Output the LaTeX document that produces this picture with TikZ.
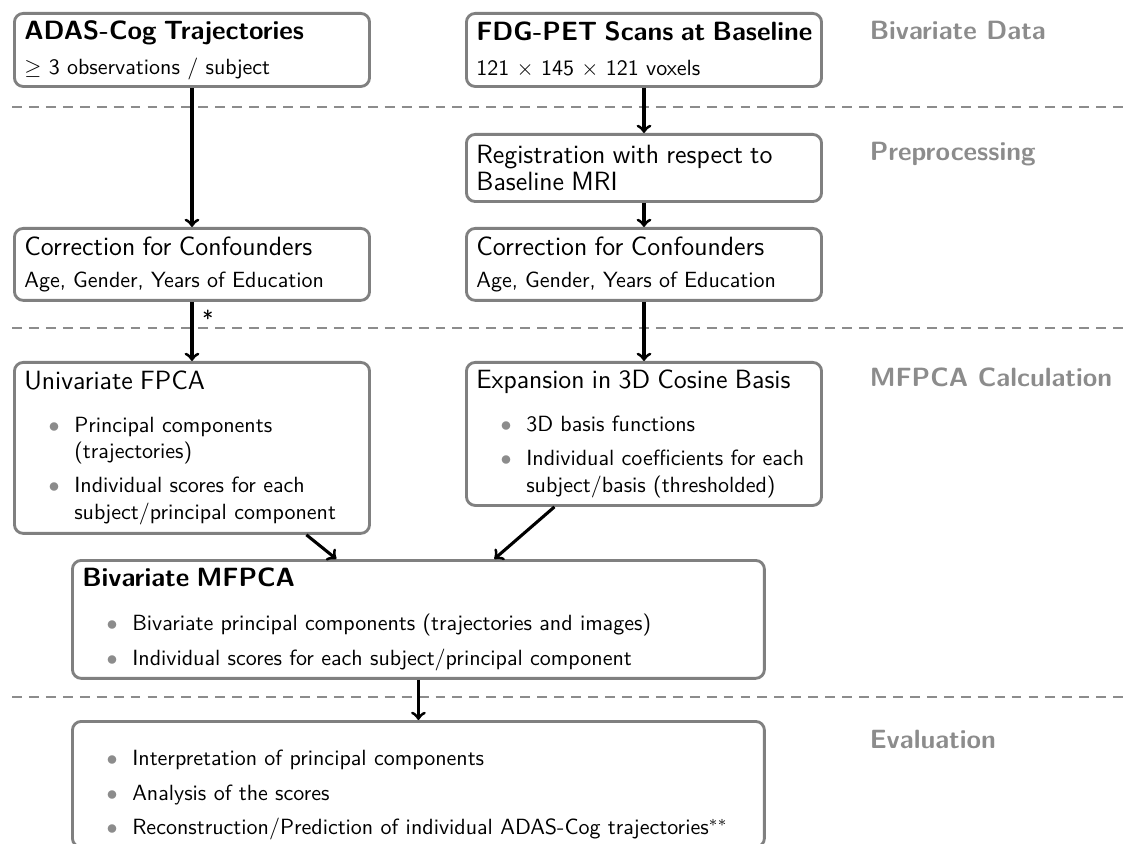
\documentclass[tikz,border=0pt]{standalone}
\renewcommand{\familydefault}{\sfdefault}
\definecolor{boxgray}{gray}{0.5}
\definecolor{phasegray}{gray}{0.55}
\definecolor{dashgray}{gray}{0.55}
\definecolor{dotgray}{gray}{0.55}
\tikzset{%
  stepbox/.style = {draw=boxgray, line width=1.3pt, rounded corners=4pt,%
                    anchor=north west, align=left, inner xsep=4.5pt,%
                    inner ysep=3pt, text width=152.4pt},%
  widebox/.style = {stepbox, text width=305.5pt},%
  phase/.style   = {anchor=base west, font=\large\bfseries, text=phasegray},%
  divider/.style = {draw=dashgray, line width=1.3pt, dash pattern=on 4.5pt off 3.2pt},%
  flow/.style    = {->, line width=1.4pt}%
}
\newcommand{\bitem}[1][3.5pt]{\par\vspace{#1}\hangindent=22.7pt\hangafter=1%
  \noindent\hbox to 22.7pt{\hskip 11pt\textcolor{dotgray}{$\bullet$}\hfil}\ignorespaces}

\begin{document}
\begin{tikzpicture}[x=0.4545pt,y=-0.4545pt]
	\useasboundingbox (0,0) rectangle (1129,844);
	\draw[divider] (12,107) -- (1129,107);
	\draw[divider] (12,328) -- (1129,328);
	\draw[divider] (12,697) -- (1129,697);
	\node[phase] (lblData) at (862,40) {Bivariate Data};
	\node[phase] (lblPre) at (862,161) {Preprocessing};
	\node[phase] (lblCalc) at (862,387) {MFPCA Calculation};
	\node[phase] (lblEval) at (862,748) {Evaluation};
	\node[stepbox, minimum height=33.2pt] (adas) at (13,12)
		{\large\bfseries\mbox{ADAS-Cog Trajectories}\par\vspace{3.9pt}%
		\normalsize\mdseries $\geq$ 3 observations / subject};
	\node[stepbox, minimum height=33.2pt] (pet) at (465,12)
		{\large\bfseries\mbox{FDG-PET Scans at Baseline}\par\vspace{3.9pt}%
		\normalsize\mdseries 121 $\times$ 145 $\times$ 121 voxels};
	\node[stepbox, minimum height=30.5pt] (reg) at (465,133)
		{\large Registration with respect to\\Baseline MRI};
	\node[stepbox, minimum height=32.7pt] (corrL) at (13,227)
		{\large Correction for Confounders\par\vspace{2.5pt}%
		\normalsize Age, Gender, Years of Education};
	\node[stepbox, minimum height=32.7pt] (corrR) at (465,227)
		{\large Correction for Confounders\par\vspace{2.5pt}%
		\normalsize Age, Gender, Years of Education};
	\node[stepbox, minimum height=77.7pt] (univ) at (13,361)
		{\large Univariate FPCA\normalsize
		\bitem[7.5pt] Principal components\newline (trajectories)
		\bitem Individual scores for each\newline subject/principal component\par};
	\node[stepbox, minimum height=65pt] (expn) at (465,361)
		{\large Expansion in 3D Cosine Basis\normalsize
		\bitem[7.5pt] 3D basis functions
		\bitem Individual coefficients for each\newline subject/basis (thresholded)\par};
	\node[widebox, minimum height=53.6pt] (biv) at (71,559)
		{\large\bfseries Bivariate MFPCA\normalsize\mdseries
		\bitem[8pt] Bivariate principal components (trajectories and images)
		\bitem[4pt] Individual scores for each subject/principal component\par};
	\node[widebox] (eval) at (71,720)
		{\bitem[5pt] Interpretation of principal components
		\bitem[3.8pt] Analysis of the scores
		\bitem[3.8pt] Reconstruction/Prediction of individual ADAS-Cog trajectories$^{**}$\par};
	\draw[flow] (adas.south) -- (corrL.north);
	\draw[flow] (pet.south) -- (reg.north);
	\draw[flow] (reg.south) -- (corrR.north);
	\draw[flow] (corrL.south) -- node[pos=0.27, anchor=west, inner sep=4pt] {*} (univ.north);
	\draw[flow] (corrR.south) -- (expn.north);
	\draw[flow] ([xshift=52pt]univ.south) -- ([xshift=-37.3pt]biv.north);
	\draw[flow] ([xshift=-40.7pt]expn.south) -- ([xshift=34.5pt]biv.north);
	\draw[flow] (biv.south) -- (eval.north);
\end{tikzpicture}
\end{document}
